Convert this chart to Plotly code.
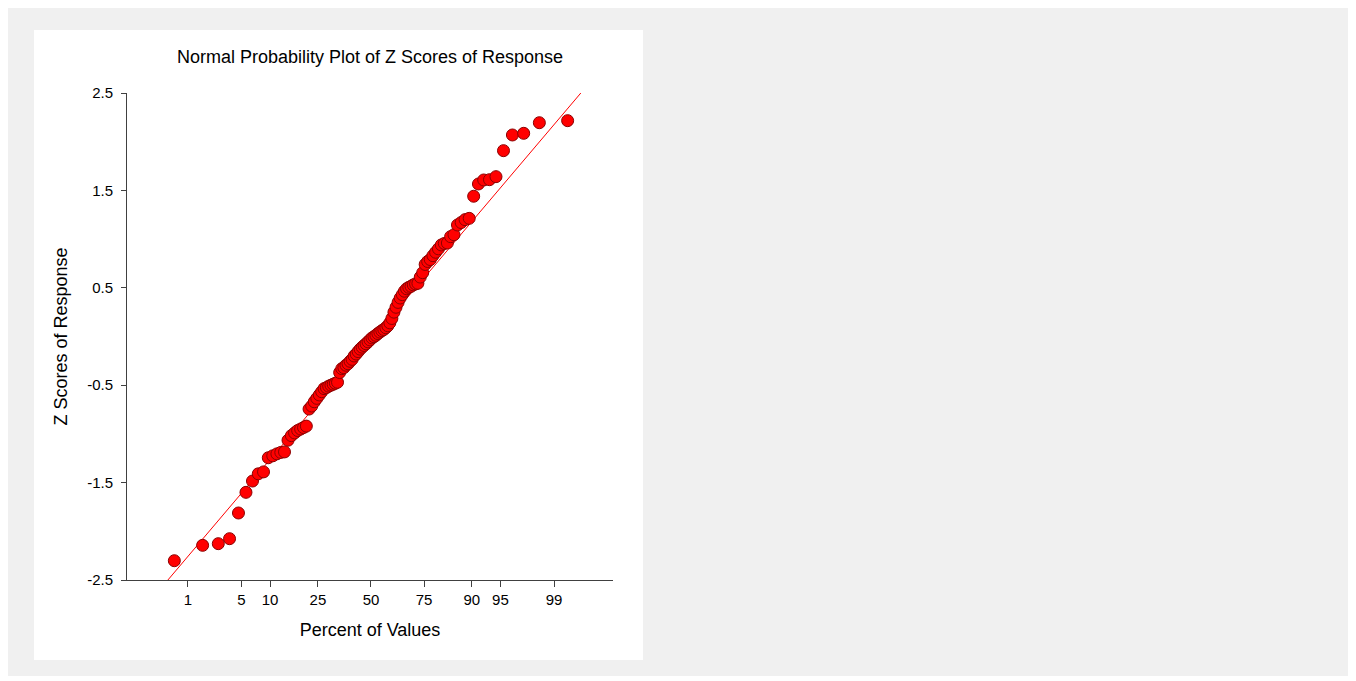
from statistics import NormalDist
import plotly.graph_objects as go

# Sorted Z scores of Response, n = 100
z_scores = [
    -2.302, -2.144, -2.127, -2.076, -1.812, -1.600, -1.484, -1.410, -1.390, -1.245,
    -1.225, -1.205, -1.190, -1.185, -1.065, -1.018, -0.990, -0.965, -0.950, -0.935,
    -0.920, -0.745, -0.714, -0.670, -0.635, -0.600, -0.567, -0.535, -0.525, -0.510,
    -0.500, -0.490, -0.480, -0.470, -0.370, -0.330, -0.320, -0.295, -0.280, -0.255,
    -0.235, -0.200, -0.180, -0.155, -0.130, -0.110, -0.092, -0.075, -0.055, -0.035,
    -0.015, -0.002, 0.012, 0.030, 0.045, 0.060, 0.072, 0.090, 0.110, 0.140,
    0.185, 0.250, 0.300, 0.350, 0.395, 0.430, 0.465, 0.490, 0.505, 0.515,
    0.530, 0.540, 0.546, 0.610, 0.655, 0.740, 0.770, 0.790, 0.830, 0.865,
    0.900, 0.940, 0.955, 0.960, 1.025, 1.045, 1.145, 1.170, 1.200, 1.213,
    1.440, 1.566, 1.607, 1.610, 1.641, 1.908, 2.069, 2.086, 2.195, 2.216,
]

# Reference line (intercept, slope)
line_intercept = -0.041
line_slope = 0.953

percent_ticks = [1, 5, 10, 25, 50, 75, 90, 95, 99]
y_ticks = [-2.5, -1.5, -0.5, 0.5, 1.5, 2.5]
y_tick_labels = ["-2.5", "-1.5", "-0.5", "0.5", "1.5", "2.5"]

nd = NormalDist()
n = len(z_scores)
# Blom plotting positions mapped to normal quantiles
x_pos = [nd.inv_cdf((i - 0.375) / (n + 0.25)) for i in range(1, n + 1)]
x_tickvals = [nd.inv_cdf(p / 100.0) for p in percent_ticks]

x_range = [-3.1, 3.075]
y_range = [-2.5, 2.5]

W, H = 1348, 673
L, T, PW, PH = 119, 85, 486, 487


def px(x):
    return (x - L) / PW


def py(y):
    return (T + PH - y) / PH


fig = go.Figure()
line_x = [x_range[0], x_range[1]]
fig.add_trace(go.Scatter(
    x=line_x, y=[line_intercept + line_slope * v for v in line_x],
    mode="lines", line=dict(color="#ff0000", width=1), hoverinfo="skip",
    showlegend=False,
))
fig.add_trace(go.Scatter(
    x=x_pos, y=z_scores, mode="markers",
    marker=dict(color="#ff0000", size=12, line=dict(color="#8b0000", width=1)),
    showlegend=False, cliponaxis=False,
))

font_family = "Arial, Liberation Sans, sans-serif"
fig.update_layout(
    width=W, height=H,
    paper_bgcolor="#ffffff", plot_bgcolor="rgba(0,0,0,0)",
    margin=dict(l=L, r=W - L - PW, t=T, b=H - T - PH, autoexpand=False),
    font=dict(family=font_family, color="#000000", size=15),
    title=dict(text="Normal Probability Plot of Z Scores of Response",
               x=362 / W, xanchor="center", y=1 - 49 / H, yanchor="middle",
               font=dict(size=18, family=font_family, color="#000000")),
    shapes=[
        dict(type="rect", xref="paper", yref="paper", layer="below",
             x0=px(-5), x1=px(1343), y0=py(668), y1=py(-5),
             fillcolor="#f0f0f0", line=dict(width=0)),
        dict(type="rect", xref="paper", yref="paper", layer="below",
             x0=px(26), x1=px(635), y0=py(652), y1=py(22),
             fillcolor="#ffffff", line=dict(width=0)),
    ],
    xaxis=dict(
        range=x_range, tickmode="array", tickvals=x_tickvals,
        ticktext=[str(p) for p in percent_ticks],
        showgrid=False, zeroline=False, showline=True, linecolor="#404040", linewidth=1,
        ticks="outside", ticklen=6, tickcolor="#404040",
        tickfont=dict(size=15, family=font_family),
        title=dict(text="Percent of Values", font=dict(size=18, family=font_family), standoff=16),
    ),
    yaxis=dict(
        range=y_range, tickmode="array", tickvals=y_ticks, ticktext=y_tick_labels,
        showgrid=False, zeroline=False, showline=True, linecolor="#404040", linewidth=1,
        ticks="outside", ticklen=5, tickcolor="#404040", ticklabelstandoff=5,
        tickfont=dict(size=15, family=font_family),
        title=dict(text="Z Scores of Response", font=dict(size=18, family=font_family), standoff=14),
    ),
)

fig.write_html("out.html")
